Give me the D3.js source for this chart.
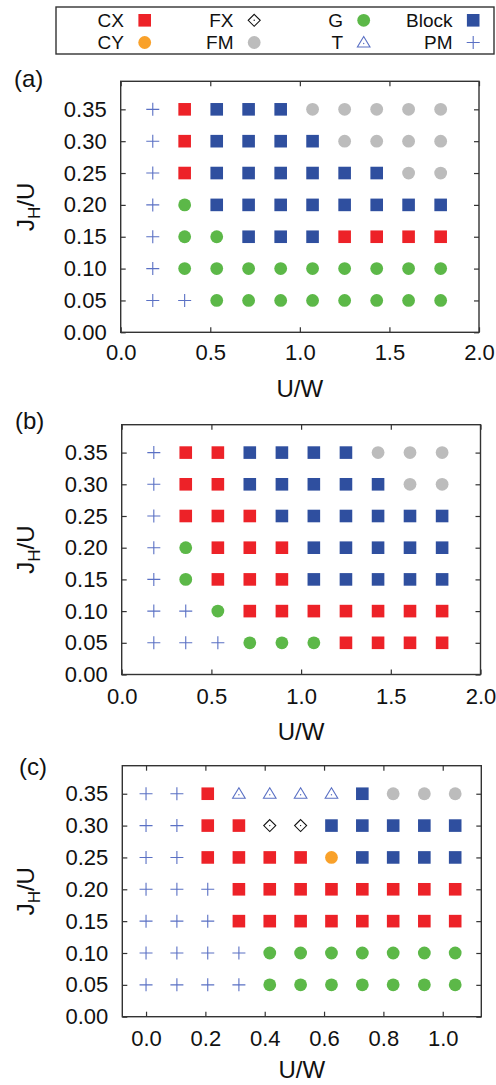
<!DOCTYPE html>
<html><head><meta charset="utf-8">
<script src="https://cdn.jsdelivr.net/npm/d3@7"></script>
<style>
body{margin:0;background:#fff;}
svg{display:block;font-family:"Liberation Sans",Arial,Helvetica,sans-serif;}
</style></head>
<body>
<script>
// ---- data ----
const jhValues = [0.35, 0.30, 0.25, 0.20, 0.15, 0.10, 0.05];
const uwValuesAB = [0.179, 0.357, 0.536, 0.714, 0.893, 1.071, 1.250, 1.429, 1.607, 1.786];
const uwValuesC = [0.0, 0.104, 0.208, 0.313, 0.417, 0.521, 0.625, 0.729, 0.833, 0.938, 1.042];
const phasesA = [
  ["PM","CX","Block","Block","Block","FM","FM","FM","FM","FM"],
  ["PM","CX","Block","Block","Block","Block","FM","FM","FM","FM"],
  ["PM","CX","Block","Block","Block","Block","Block","Block","FM","FM"],
  ["PM","G","Block","Block","Block","Block","Block","Block","Block","Block"],
  ["PM","G","G","Block","Block","Block","CX","CX","CX","CX"],
  ["PM","G","G","G","G","G","G","G","G","G"],
  ["PM","PM","G","G","G","G","G","G","G","G"]
];
const phasesB = [
  ["PM","CX","CX","Block","Block","Block","Block","FM","FM","FM"],
  ["PM","CX","CX","Block","Block","Block","Block","Block","FM","FM"],
  ["PM","CX","CX","CX","Block","Block","Block","Block","Block","Block"],
  ["PM","G","CX","CX","CX","Block","Block","Block","Block","Block"],
  ["PM","G","CX","CX","CX","Block","Block","Block","Block","Block"],
  ["PM","PM","G","CX","CX","CX","CX","CX","CX","CX"],
  ["PM","PM","PM","G","G","G","CX","CX","CX","CX"]
];
const phasesC = [
  ["PM","PM","CX","T","T","T","T","Block","FM","FM","FM"],
  ["PM","PM","CX","CX","FX","FX","Block","Block","Block","Block","Block"],
  ["PM","PM","CX","CX","CX","CX","CY","Block","Block","Block","Block"],
  ["PM","PM","PM","CX","CX","CX","CX","CX","CX","CX","CX"],
  ["PM","PM","PM","CX","CX","CX","CX","CX","CX","CX","CX"],
  ["PM","PM","PM","PM","G","G","G","G","G","G","G"],
  ["PM","PM","PM","PM","G","G","G","G","G","G","G"]
];
const yTicks = [0, 0.05, 0.10, 0.15, 0.20, 0.25, 0.30, 0.35];
const xTicksAB = [0, 0.5, 1.0, 1.5, 2.0];
const xTicksC = [0, 0.2, 0.4, 0.6, 0.8, 1.0];
const legendRow1 = ["CX","FX","G","Block"];
const legendRow2 = ["CY","FM","T","PM"];

// ---- styles ----
const colors = {CX:"#ed2228", CY:"#f9a12a", FX:"#111111", FM:"#bcbcbc", G:"#5cb848", T:"#5a70c4", Block:"#2f4f9f", PM:"#5a70c4"};

const W = 496, H = 1085;
const svg = d3.select("body").append("svg").attr("width", W).attr("height", H);

function drawMarker(g, type, x, y) {
  const c = colors[type];
  if (type === "CX" || type === "Block") {
    g.append("rect").attr("x", x-6.3).attr("y", y-6.3).attr("width", 12.6).attr("height", 12.6).attr("fill", c);
  } else if (type === "G" || type === "FM" || type === "CY") {
    g.append("circle").attr("cx", x).attr("cy", y).attr("r", 6.4).attr("fill", c);
  } else if (type === "PM") {
    g.append("path").attr("d", `M${x-6.5},${y}H${x+6.5}M${x},${y-6.5}V${y+6.5}`)
      .attr("stroke", c).attr("stroke-width", 1.1).attr("fill", "none");
  } else if (type === "T") {
    g.append("path").attr("d", `M${x},${y-6}L${x+6.3},${y+4.5}L${x-6.3},${y+4.5}Z`)
      .attr("stroke", c).attr("stroke-width", 1.1).attr("fill", "none");
    g.append("circle").attr("cx", x).attr("cy", y+1).attr("r", 0.7).attr("fill", c);
  } else if (type === "FX") {
    g.append("path").attr("d", `M${x},${y-6}L${x+6},${y}L${x},${y+6}L${x-6},${y}Z`)
      .attr("stroke", c).attr("stroke-width", 1.1).attr("fill", "none");
    g.append("circle").attr("cx", x).attr("cy", y).attr("r", 0.7).attr("fill", c);
  }
}

function drawPanel(cfg) {
  const g = svg.append("g");
  const x = d3.scaleLinear().domain(cfg.xDomain).range([cfg.left, cfg.right]);
  const y = d3.scaleLinear().domain([0, 0.394]).range([cfg.bottom, cfg.top]);
  const tickLen = 5;
  const styleAxis = sel => {
    sel.select(".domain").remove();
    sel.selectAll(".tick line").attr("stroke", "#333").attr("stroke-width", 1.2);
    sel.selectAll("text").attr("font-size", 22).attr("fill", "#111")
      .attr("font-family", '"Liberation Sans",Arial,sans-serif');
  };
  g.append("g").attr("transform", `translate(${cfg.left},0)`)
    .call(d3.axisLeft(y).tickValues(yTicks).tickFormat(d3.format(".2f")).tickSize(-tickLen).tickPadding(14))
    .call(styleAxis);
  g.append("g").attr("transform", `translate(${cfg.right},0)`)
    .call(d3.axisRight(y).tickValues(yTicks).tickFormat("").tickSize(-tickLen))
    .call(styleAxis);
  g.append("g").attr("transform", `translate(0,${cfg.bottom})`)
    .call(d3.axisBottom(x).tickValues(cfg.xTicks).tickFormat(d3.format(".1f")).tickSize(-tickLen).tickPadding(cfg.xPad))
    .call(styleAxis);
  g.append("g").attr("transform", `translate(0,${cfg.top})`)
    .call(d3.axisTop(x).tickValues(cfg.xTicks).tickFormat("").tickSize(-tickLen))
    .call(styleAxis);
  g.append("rect").attr("x", cfg.left).attr("y", cfg.top)
    .attr("width", cfg.right - cfg.left).attr("height", cfg.bottom - cfg.top)
    .attr("fill", "none").attr("stroke", "#333").attr("stroke-width", 1.4);

  const marks = g.append("g");
  cfg.phases.forEach((row, i) => {
    row.forEach((p, j) => drawMarker(marks, p, x(cfg.xs[j]), y(jhValues[i])));
  });

  g.append("text").attr("x", (cfg.left + cfg.right) / 2).attr("y", cfg.bottom + cfg.xLabOff)
    .attr("text-anchor", "middle").attr("font-size", 24).attr("fill", "#111").text("U/W");
  const yl = g.append("text")
    .attr("transform", `translate(34,${(cfg.top + cfg.bottom) / 2}) rotate(-90)`)
    .attr("text-anchor", "middle").attr("font-size", 24).attr("fill", "#111");
  yl.append("tspan").text("J");
  yl.append("tspan").attr("font-size", 17).attr("dy", 6).text("H");
  yl.append("tspan").attr("dy", -6).text("/U");
  g.append("text").attr("x", cfg.labelX).attr("y", cfg.labelY)
    .attr("font-size", 24).attr("fill", "#111").text(cfg.label);
}

drawPanel({left:120.7, right:479, top:81.3, bottom:332.3, xDomain:[0,2], xTicks:xTicksAB, xs:uwValuesAB, phases:phasesA, label:"(a)", labelX:14, labelY:87, xPad:12, xLabOff:65});
drawPanel({left:121.7, right:480.5, top:424.7, bottom:674.5, xDomain:[0,2], xTicks:xTicksAB, xs:uwValuesAB, phases:phasesB, label:"(b)", labelX:15, labelY:429, xPad:14, xLabOff:65});
drawPanel({left:122.3, right:481.3, top:765.7, bottom:1016.7, xDomain:[-0.08,1.13], xTicks:xTicksC, xs:uwValuesC, phases:phasesC, label:"(c)", labelX:19, labelY:775, xPad:14, xLabOff:61});

// ---- legend ----
const lg = svg.append("g");
lg.append("rect").attr("x", 56).attr("y", 7).attr("width", 438).attr("height", 47)
  .attr("fill", "#fff").attr("stroke", "#333").attr("stroke-width", 1.4);
const legX = d3.scalePoint().domain([0,1,2,3]).range([124, 452.5]);
[[legendRow1, 27.3, 20.3], [legendRow2, 49.3, 42.5]].forEach(([items, base, my]) => {
  items.forEach((name, i) => {
    lg.append("text").attr("x", legX(i)).attr("y", base).attr("text-anchor", "end")
      .attr("font-size", 19).attr("fill", "#111").text(name);
    drawMarker(lg, name, legX(i) + 20.7, my);
  });
});
</script>
</body></html>
